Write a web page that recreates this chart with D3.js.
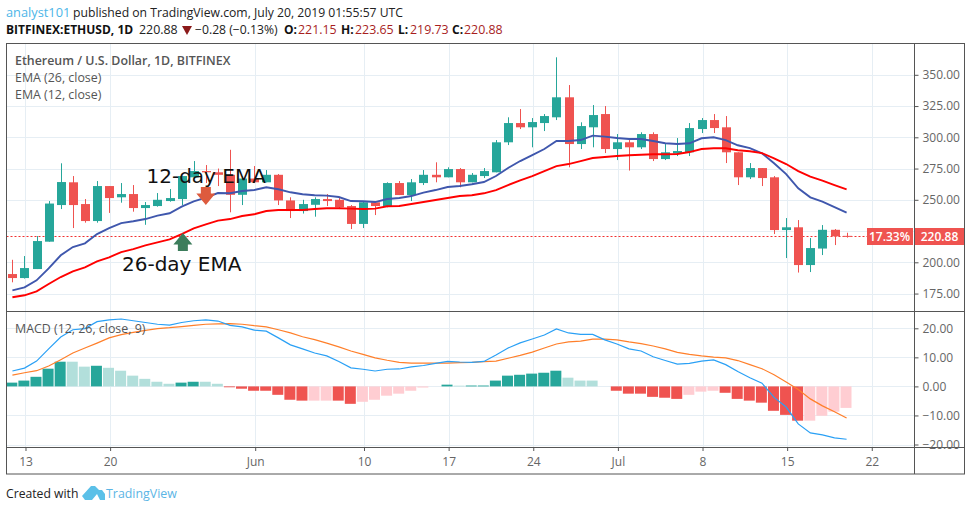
<!DOCTYPE html>
<html><head><meta charset="utf-8">
<script src="https://cdn.jsdelivr.net/npm/d3@7/dist/d3.min.js"></script>
<style>
html,body{margin:0;padding:0;background:#fff}
svg{display:block}
text{font-family:"Open Sans","Noto Sans",sans-serif}
</style></head><body>
<div id="chart"></div>
<script>
// day index 0 = May 13, candles run from -1 (May 12) to 68 (Jul 20)
const firstDay = -1;
const opens  = [190.6,187.4,194.6,216.5,245.8,264,246.6,233,261,252,254.6,243.4,245,249,250.6,268,273,272,270,254,267,264,270,249.5,241,246,250.6,250,245,230.7,248,245,263.4,253.8,263.4,270,268,274.6,264,269,272,296,311.4,308,311.4,316,332,294.6,308,318.6,290.6,296,292,302.6,282.6,287,288,306.6,313.8,308,288,268,275.4,268,225.8,228,197.8,211,226,221.15].slice(0,70);
const closes = [187.4,195.4,217,247,264.2,245.8,233,261,251.4,254.6,243.4,245.8,250,251.4,269,273,272,270,254,267,264,270,249.5,241,246.6,250.6,249,244,230.7,248,245,263.4,253.8,264,270,268,274.6,264,270,273,296,311.4,308,312.2,317,332,294.6,309,317.8,290.6,296,292,302.6,282.6,288,289,307.4,313.8,307.4,288,268,275.4,267.4,225.8,228,197.8,211.4,226,220.8,220.88].slice(0,70);
const highs  = [202,205,221,249,279.2,269,250.6,265,261,263.4,261.8,248.2,255.4,258.6,269,281,277.8,275,290,269,277,273.8,270.6,252,250,252,254.6,251.4,245.8,249,249,264,265,266.6,273.8,280,276,275.4,271.4,275.4,297.8,316,322.6,315.4,318.6,364,341.8,312,325.8,325,302.6,299.4,304,304,294.6,299.4,311.4,315.4,318.6,317,288,279.4,275.4,269,235.4,233.8,219.4,229.8,226.6,223.65];
const lows   = [184,187,194.6,216.5,242.6,227.4,231.7,231.7,239.5,247.7,240.5,230,244.5,248.5,245.8,267,263.4,261,240,245.8,263.4,264,245.8,235.4,239,236.5,245,242.6,226.6,227.4,237.8,244,253.8,249,261.8,264,268,260,264,267.4,272,293.8,306.6,292,305,313.8,276,290.6,292,287.4,281.8,273.4,290.6,281,281.8,285,285,303.4,303.4,279.4,261.8,266.6,261,222.6,203.4,191.8,192.2,205.8,213.8,219.73];
const ema12  = [177.6,180,185.6,195.2,205.6,212.2,215.2,222.6,227.4,231.4,232.8,234.6,237.3,239.2,244.5,248.8,251.7,255.4,255.2,257,257.8,260,258.4,256,254.4,253.6,253.3,252.2,249,248.8,248.2,250.6,251.4,253,255.7,257.8,260.2,261,262.4,264.2,269,275.4,281,285.8,290.6,297,297,297.8,301.3,300.5,299.4,298.6,298.6,297,295.2,294.6,295.2,299.2,300,297.8,293.6,291.4,287.2,279.2,270.6,259.2,252,248.5,244.2,239.7];
const ema26  = [172,173.6,176.8,182.6,188.2,192.8,196,200.8,204,208.2,210.6,213.6,216,218.4,222.6,227.2,230.4,233.3,234.6,237,238.4,241,241.8,241.8,241.8,242.6,243.2,243.2,242.9,242.6,242.9,244.8,245,246.6,248.2,249.8,251.4,253,253.6,255.2,257.8,261.8,265.6,269,273,277,278.6,281,283.4,284.2,285,285.6,286,286.4,286.4,286.6,288.2,290.6,291.2,291.2,289.6,288.8,287.4,283.2,278.6,273,268.5,265.3,261.8,258.4];
const macdLine = [5.3,6.3,8.7,12.9,17,19.5,19.9,22.3,22.9,23.2,22.6,22,21.4,21.1,22,22.6,22.9,22.5,21,20.5,19.4,19,16.7,14.3,12.9,11.5,10.5,8.6,6.4,5.9,5.3,5.9,6,6.7,7.2,7.9,8.6,8.4,8.3,8.6,10.8,13.2,15,16.3,17.7,19.8,18.4,17.9,17.9,16,14.6,12.9,12.2,10.2,8.9,7.7,7.9,8.7,9.1,7.5,5.1,3,1.1,-3.8,-7.1,-12.9,-16,-16.7,-17.7,-18.2];
const signalLine = [3.9,4.7,5.4,7,9.2,11.5,13.2,14.9,16.7,17.8,18.6,19.3,19.9,20.2,20.6,21,21.4,21.5,21.6,21.4,20.9,20.5,19.5,18.4,17.1,16.1,14.9,13.6,12.2,11,9.8,9,8.3,8,8,8,8,8.2,8.3,8.5,8.7,9.7,10.7,11.8,13.2,14.6,15.3,15.6,16.3,16.3,16,15.3,14.7,13.9,12.9,11.7,11,10.5,10.1,9.8,8.9,7.5,6.1,4,1.5,-1.1,-4.3,-6.7,-8.7,-10.9];
const histogram = [1.3,2,3.3,6.1,8.5,8.5,6.8,7.1,6.4,5.4,3.7,2.6,1.6,0.9,1.3,1.6,1.6,0.9,-0.3,-0.8,-1.5,-1.5,-2.9,-4.6,-4.9,-4.9,-4.9,-4.9,-6,-5.3,-4.6,-3.2,-2.5,-1.5,-0.4,0,0.6,0.25,0.3,0.3,2,3.7,4,4.4,4.7,5.4,3,2,2,0,-1.5,-2.5,-2.5,-3.6,-3.9,-4.3,-2.9,-1.8,-1.5,-2.2,-4.3,-4.9,-5.6,-8.4,-9.8,-11.8,-11.8,-10.1,-8.7,-7.4];
const histDark = [1,1,1,1,1,0,0,1,0,0,0,0,0,0,1,1,0,0,1,1,1,1,1,1,1,0,0,1,1,0,0,0,0,0,0,0,1,0,1,1,1,1,1,1,1,1,0,0,0,0,1,1,1,1,1,1,0,0,0,1,1,1,1,1,1,1,0,0,0,0];
const timeTickDays = [0,7,19,28,35,42,49,56,63,70];
const timeTickLabels = ["13","20","Jun","10","17","24","Jul","8","15","22"];
const priceGrid = [175,200,225,250,275,300,325,350];
const priceTicks = [175,200,250,275,300,325,350];
const macdTicks = [-20,-10,0,10,20];
const lastClose = 220.88;

const UP="#26a69a", DOWN="#ef5350", UP_L="#b2dfdb", DOWN_L="#ffcdd2", GRID="#e6eef4", FRAME="#555", AXIS="#666";
const svg=d3.select("#chart").append("svg").attr("width",971).attr("height",511);
const L=6.5,R=914.5,E=964.5,T=43.5,M=311,B=447,F=474;

const x=d3.scaleLinear().domain([-1,68]).range([12.4,846.6]);
const y=d3.scaleLinear().domain([200,350]).range([262.3,74.8]);
const ym=d3.scaleLinear().domain([-20,20]).range([444.5,328.3]);
const days=d3.range(opens.length).map(i=>i+firstDay);

// grid
const grid=svg.append("g");
function hGrid(sel,vals,sc,x1,x2){sel.selectAll(null).data(vals).join("line").attr("x1",x1).attr("x2",x2)
  .attr("y1",d=>Math.round(sc(d))+.5).attr("y2",d=>Math.round(sc(d))+.5).attr("stroke",GRID);}
hGrid(grid.append("g"),priceGrid,y,L,R); hGrid(grid.append("g"),macdTicks,ym,L,R);
grid.append("g").selectAll(null).data(timeTickDays).join("line")
  .attr("x1",d=>Math.round(x(d)+1)+.5).attr("x2",d=>Math.round(x(d)+1)+.5).attr("y1",T).attr("y2",B).attr("stroke",GRID);

// histogram
const hw=11;
svg.append("g").selectAll("rect").data(histogram).join("rect")
  .attr("x",(d,i)=>x(days[i])-hw/2-.6).attr("width",hw)
  .attr("y",d=>Math.min(ym(d),ym(0))).attr("height",d=>Math.abs(ym(d)-ym(0)))
  .attr("fill",(d,i)=>d>=0?(histDark[i]?UP:UP_L):(histDark[i]?DOWN:DOWN_L));
const mLine=d3.line().x((d,i)=>x(days[i])).y(d=>ym(d));
svg.append("path").attr("d",mLine(signalLine)).attr("fill","none").attr("stroke","#ff7f2a").attr("stroke-width",1.2);
svg.append("path").attr("d",mLine(macdLine)).attr("fill","none").attr("stroke","#2aa0f5").attr("stroke-width",1.2);

// last price line
const lastY=Math.round(y(lastClose))+.5;
svg.append("line").attr("x1",L).attr("x2",R).attr("y1",lastY).attr("y2",lastY)
  .attr("stroke","#f03030").attr("stroke-dasharray","2,2");

// candles
const cw=9;
const c=svg.append("g").selectAll("g").data(days).join("g");
const col=(i)=>closes[i]>=opens[i]?UP:DOWN;
c.append("line").attr("x1",d=>Math.round(x(d))+.5).attr("x2",d=>Math.round(x(d))+.5)
  .attr("y1",(d,i)=>y(highs[i])).attr("y2",(d,i)=>y(lows[i])).attr("stroke",(d,i)=>col(i));
c.append("rect").attr("x",d=>Math.round(x(d))+.5-cw/2).attr("width",cw)
  .attr("y",(d,i)=>y(Math.max(opens[i],closes[i])))
  .attr("height",(d,i)=>Math.max(1,Math.abs(y(opens[i])-y(closes[i])))).attr("fill",(d,i)=>col(i));

// EMAs
const eLine=d3.line().x((d,i)=>x(days[i])).y(d=>y(d));
svg.append("path").attr("d",eLine(ema12)).attr("fill","none").attr("stroke","#3f57ad").attr("stroke-width",1.9);
svg.append("path").attr("d",eLine(ema26)).attr("fill","none").attr("stroke","#ff0000").attr("stroke-width",1.9);

// arrows: anchored on the price scale
function arrow(px,tipP,dir,fill){
  const tx=x(px),ty=y(tipP);
  const p=[[0,0],[9.5,dir*11.5],[5,dir*11.5],[5,dir*18],[-5,dir*18],[-5,dir*11.5],[-9.5,dir*11.5]];
  svg.append("path").attr("d",d3.line()(p.map(q=>[tx+q[0],ty+q[1]]))+"Z").attr("fill",fill);
}
arrow(15,245.8,-1,"#dd5b3e");
arrow(13.1,223.5,1,"#3c7d5b");

// frame
const fr=svg.append("g").attr("stroke",FRAME).attr("fill","none");
fr.append("rect").attr("x",L).attr("y",T).attr("width",E-L).attr("height",F-T);
fr.append("line").attr("x1",L).attr("x2",E).attr("y1",M+.5).attr("y2",M+.5);
fr.append("line").attr("x1",L).attr("x2",E).attr("y1",B+.5).attr("y2",B+.5);
fr.append("line").attr("x1",R).attr("x2",R).attr("y1",T).attr("y2",F);

// axes
function styleAxis(g){g.select(".domain").remove();g.selectAll("line").attr("stroke",FRAME);
  g.selectAll("text").attr("fill",AXIS).style("font-size","12px").style("font-family",'"Open Sans",sans-serif');}
svg.append("g").attr("transform",`translate(${R},0)`).call(d3.axisRight(y).tickValues(priceTicks).tickSize(4).tickPadding(4).tickFormat(d3.format(".2f"))).call(styleAxis);
svg.append("g").attr("transform",`translate(${R},0)`).call(d3.axisRight(ym).tickValues(macdTicks).tickSize(4).tickPadding(4).tickFormat(d=>d3.format(".2f")(d).replace("-","\u2212"))).call(styleAxis);
svg.append("g").attr("transform",`translate(1,${B})`).call(d3.axisBottom(x).tickValues(timeTickDays).tickSize(4).tickPadding(6).tickFormat((d,i)=>timeTickLabels[i])).call(styleAxis);

// labels
function t(xp,yp,s,o={}){return svg.append("text").attr("x",xp).attr("y",yp).text(s)
  .attr("fill",o.fill||"#222").attr("font-size",o.size||12).attr("font-weight",o.weight||"normal")
  .attr("text-anchor",o.anchor||"start").style("font-family",o.family||null);}
svg.append("rect").attr("x",867).attr("y",228).attr("width",46).attr("height",17).attr("fill",DOWN);
svg.append("rect").attr("x",915).attr("y",228).attr("width",49).attr("height",17).attr("fill",DOWN);
t(889.5,240.5,"17.33%",{fill:"#fff",size:12,weight:600,anchor:"middle"});
t(939.5,240.5,"220.88",{fill:"#fff",size:12,weight:600,anchor:"middle"});

t(15,65,"Ethereum / U.S. Dollar, 1D, BITFINEX",{fill:"#555",size:12.4,weight:600});
t(15,82,"EMA (26, close)",{fill:"#555",size:12.4});
t(15,99,"EMA (12, close)",{fill:"#555",size:12.4});
t(15,333,"MACD (12, 26, close, 9)",{fill:"#555",size:12.4});

const ann='"DejaVu Sans",sans-serif';
t(146.5,183,"12-day EMA",{fill:"#111",size:20,family:ann});
t(122,271,"26-day EMA",{fill:"#111",size:20,family:ann});

// header
t(6,17,"analyst101",{fill:"#4db6e8",size:12.8});
t(73,17,"published on TradingView.com, July 20, 2019 01:55:57 UTC",{fill:"#222",size:12.2});
t(6,34,"BITFINEX:ETHUSD, 1D",{fill:"#111",weight:700});
t(139,34,"220.88",{fill:"#222",size:12.4});
svg.append("path").attr("d",d3.line()([[182,26],[192,26],[187,35]])+"Z").attr("fill","#8b1a1a");
t(195,34,"\u22120.28 (\u22120.13%)",{fill:"#222",size:12.2});
const hdr=[["O:","221.15",284,298],["H:","223.65",341,355],["L:","219.73",398,410],["C:","220.88",452,464]];
hdr.forEach(h=>{t(h[2],34,h[0],{fill:"#111",weight:700});t(h[3],34,h[1],{fill:"#a81e1e",size:12.4});});

// footer
t(6,498,"Created with",{fill:"#222",size:12.2});
svg.append("path").attr("fill","#5bc0e8").attr("d","M82,496 L91,486 L95,486 L99,490 L102,490 L105,494 L105,500 L100,500 L97,494 L92,500 L85,500 Z");
t(106,498,"TradingView",{fill:"#5bb5e5",size:12.4});
</script>
</body></html>
